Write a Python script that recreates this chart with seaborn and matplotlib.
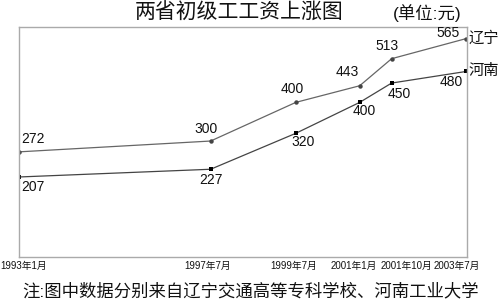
import matplotlib
matplotlib.use("Agg")
import matplotlib.pyplot as plt
import matplotlib.transforms as mtransforms
import seaborn as sns
import pandas as pd

# ---- data ----
years = [1993, 1997, 1999, 2001, 2001, 2003]
months = [1, 7, 7, 1, 10, 7]
tick_labels = ["1993年1月", "1997年7月", "1999年7月", "2001年1月", "2001年10月", "2003年7月"]
liaoning = [272, 300, 400, 443, 513, 565]
henan = [207, 227, 320, 400, 450, 480]
series_names = ["辽宁", "河南"]

# label offsets (pixels, screen coordinates, y down)
liaoning_off = [(14, -13), (-5, -12), (-4, -13), (-12, -14), (-5, -13), (-18, -6)]
henan_off = [(14, 10), (0, 11), (7, 9), (5, 9), (8, 11), (-15, 11)]
tick_off = [5, -3, -2, -6, 15, -9]

sns.set_theme(style="white")
plt.rcParams["font.family"] = ["Liberation Sans", "Noto Sans CJK SC", "DejaVu Sans"]

xpos = [y + (m - 1) / 12 for y, m in zip(years, months)]
df = pd.DataFrame({
    "x": xpos * 2,
    "v": liaoning + henan,
    "s": [series_names[0]] * len(xpos) + [series_names[1]] * len(xpos),
})

fig = plt.figure(figsize=(5, 3), dpi=100)
ax = fig.add_axes([19 / 500, 43 / 300, 448 / 500, 230 / 300])

sns.lineplot(data=df, x="x", y="v", hue="s", style="s",
             palette={series_names[0]: "#666666", series_names[1]: "#444444"},
             markers={series_names[0]: "o", series_names[1]: "s"},
             dashes=False, markersize=3.2, linewidth=0.9,
             markeredgewidth=0, legend=False, ax=ax)
for line, mc in zip(ax.lines, ["#444444", "#000000"]):
    line.set_markerfacecolor(mc)

ax.set_xlim(1993.0, 2003.52)
ax.set_ylim(0, 595)
ax.set_xlabel("")
ax.set_ylabel("")
ax.set_yticks([])
ax.set_xticks(xpos)
ax.set_xticklabels(tick_labels, fontsize=7, color="#111111")
ax.tick_params(axis="x", length=0, pad=2.5)
for lab, dx in zip(ax.get_xticklabels(), tick_off):
    lab.set_transform(lab.get_transform() + mtransforms.ScaledTranslation(dx / 100, 0, fig.dpi_scale_trans))

for sp in ax.spines.values():
    sp.set_color("#aaaaaa")
    sp.set_linewidth(1.0)

for x, v, (dx, dy) in zip(xpos, liaoning, liaoning_off):
    ax.annotate(str(v), (x, v), xytext=(dx * 0.72, -dy * 0.72), textcoords="offset points",
                ha="center", va="center", fontsize=10, color="#111111")
for x, v, (dx, dy) in zip(xpos, henan, henan_off):
    ax.annotate(str(v), (x, v), xytext=(dx * 0.72, -dy * 0.72), textcoords="offset points",
                ha="center", va="center", fontsize=10, color="#111111")

ax.annotate(series_names[0], (xpos[-1], liaoning[-1]), xytext=(2, 0), textcoords="offset points",
            ha="left", va="center", fontsize=11, color="#111111", annotation_clip=False)
ax.annotate(series_names[1], (xpos[-1], henan[-1]), xytext=(2, 0), textcoords="offset points",
            ha="left", va="center", fontsize=11, color="#111111", annotation_clip=False)

fig.text(239 / 500, 1 - 13 / 300, "两省初级工工资上涨图", ha="center", va="center", fontsize=15, color="#111111")
fig.text(427 / 500, 1 - 13 / 300, "(单位:元)", ha="center", va="center", fontsize=12.5, color="#111111")
fig.text(22 / 500, 1 - 291 / 300, "注:图中数据分别来自辽宁交通高等专科学校、河南工业大学",
         ha="left", va="center", fontsize=12.5, color="#111111")

fig.savefig("out.png", dpi=100)
